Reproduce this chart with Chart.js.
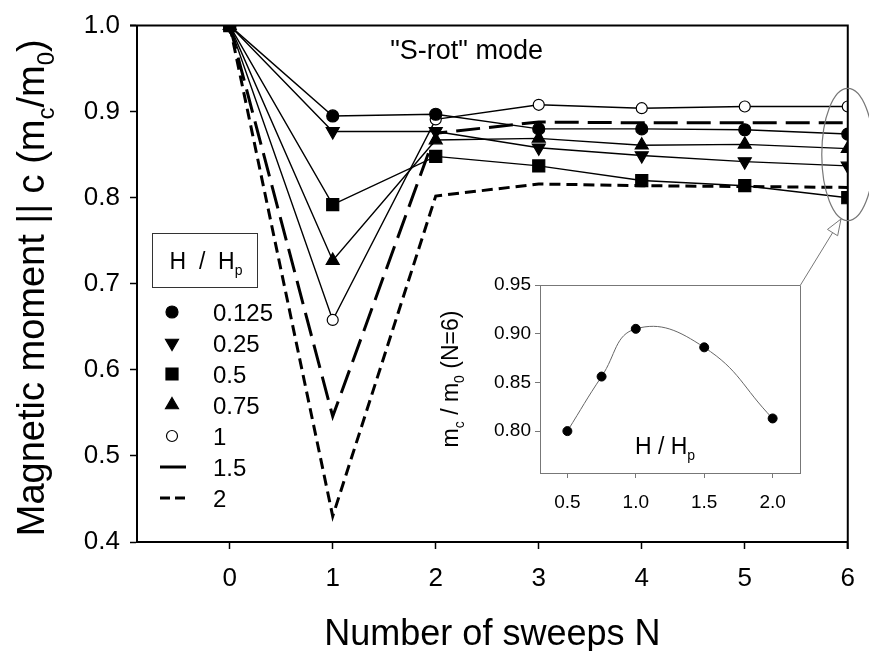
<!DOCTYPE html>
<html>
<head>
<meta charset="utf-8">
<script src="https://cdn.jsdelivr.net/npm/chart.js@4.4.0/dist/chart.umd.min.js"></script>
<style>
  body { margin: 0; background: #fff; }
  #wrap { position: relative; width: 869px; height: 651px; }
  #main { position: absolute; left: 0; top: 0; }
  #inset { position: absolute; left: 430px; top: 210px; }
</style>
</head>
<body>
<div id="wrap">
  <canvas id="main" width="869" height="651"></canvas>
  <canvas id="inset" width="430" height="310"></canvas>
</div>
<script>
// number of sweeps N
const sweeps = [0, 1, 2, 3, 4, 5, 6];
// H / Hp legend labels
const fieldLabels = ['0.125', '0.25', '0.5', '0.75', '1', '1.5', '2'];
// mc/m0 for each H/Hp
const m0125 = [1.0, 0.895, 0.897, 0.880, 0.880, 0.879, 0.874];
const m025  = [1.0, 0.877, 0.877, 0.858, 0.849, 0.842, 0.837];
const m05   = [1.0, 0.792, 0.848, 0.837, 0.820, 0.814, 0.800];
const m075  = [1.0, 0.727, 0.867, 0.869, 0.861, 0.862, 0.857];
const m1    = [1.0, 0.658, 0.891, 0.908, 0.904, 0.906, 0.906];
const m15   = [1.0, 0.546, 0.875, 0.888, 0.887, 0.887, 0.887];
const m2    = [1.0, 0.430, 0.802, 0.816, 0.814, 0.813, 0.812];

const xTicks = [0, 1, 2, 3, 4, 5, 6];
const yTicks = [0.4, 0.5, 0.6, 0.7, 0.8, 0.9, 1.0];

// inset: mc/m0 at N=6 vs H/Hp
const insetField = [0.5, 0.75, 1.0, 1.5, 2.0];
const insetN6 = [0.800, 0.856, 0.905, 0.886, 0.813];
const insetXTicks = [0.5, 1.0, 1.5, 2.0];
const insetYTicks = [0.80, 0.85, 0.90, 0.95];

const FONT = '"Liberation Sans", Arial, sans-serif';
Chart.defaults.font.family = FONT;
Chart.defaults.color = '#000';

function pts(xs, ys) {
    return xs.map((x, i) => ({x: x, y: ys[i]}));
}

// text with subscripts: parts = [[text, isSub], ...], y is baseline
function richText(ctx, parts, x, y, size, align) {
    const sub = Math.round(size * 0.62);
    let w = 0;
    for (const [t, s] of parts) {
        ctx.font = (s ? sub : size) + 'px ' + FONT;
        w += ctx.measureText(t).width;
    }
    let cx = align === 'center' ? x - w / 2 : x;
    ctx.textAlign = 'left';
    ctx.textBaseline = 'alphabetic';
    for (const [t, s] of parts) {
        ctx.font = (s ? sub : size) + 'px ' + FONT;
        ctx.fillText(t, cx, y + (s ? size * 0.25 : 0));
        cx += ctx.measureText(t).width;
    }
}

const marker = (style, fill, radius, rotation) => ({
    pointStyle: style, pointRadius: radius, pointRotation: rotation || 0,
    pointBackgroundColor: fill, pointBorderColor: '#000', pointBorderWidth: 1.2,
    pointHoverRadius: radius,
});

const datasets = [
    {label: fieldLabels[0], data: pts(sweeps, m0125), ...marker('circle', '#000', 6)},
    {label: fieldLabels[1], data: pts(sweeps, m025), ...marker('triangle', '#000', 7.5, 180)},
    {label: fieldLabels[2], data: pts(sweeps, m05), ...marker('rect', '#000', 8.5)},
    {label: fieldLabels[3], data: pts(sweeps, m075), ...marker('triangle', '#000', 7.5)},
    {label: fieldLabels[4], data: pts(sweeps, m1), ...marker('circle', '#fff', 5.5)},
    {label: fieldLabels[5], data: pts(sweeps, m15), pointRadius: 0, borderWidth: 3, borderDash: [24, 9]},
    {label: fieldLabels[6], data: pts(sweeps, m2), pointRadius: 0, borderWidth: 3, borderDash: [11, 6]},
].map(d => Object.assign({showLine: true, borderColor: '#000', borderWidth: 1.4, tension: 0, fill: false}, d));

const mainDecor = {
    id: 'mainDecor',
    afterDraw(chart) {
        const ctx = chart.ctx;
        const a = chart.chartArea;
        const xs = chart.scales.x, ys = chart.scales.y;
        ctx.save();
        // top and right frame
        ctx.strokeStyle = '#000';
        ctx.lineWidth = 2;
        ctx.beginPath();
        ctx.moveTo(a.left - 7, a.top);
        ctx.lineTo(a.right, a.top);
        ctx.lineTo(a.right, a.bottom + 7);
        ctx.stroke();

        ctx.fillStyle = '#000';
        // mode label
        richText(ctx, [['"S-rot" mode', false]], xs.getPixelForValue(2.3), 59, 27, 'center');

        // axis titles
        richText(ctx, [['Number of sweeps N', false]], (a.left + a.right) / 2, 645, 36, 'center');
        ctx.save();
        ctx.translate(31, (a.top + a.bottom) / 2 + 4);
        ctx.rotate(-Math.PI / 2);
        richText(ctx, [['Magnetic moment || c (m', false], ['c', true], ['/m', false], ['0', true], [')', false]],
            0, 13, 38, 'center');
        ctx.restore();

        // ellipse around N=6 values
        ctx.strokeStyle = '#777';
        ctx.lineWidth = 1.2;
        const ey1 = ys.getPixelForValue(0.927), ey2 = ys.getPixelForValue(0.7735);
        ctx.beginPath();
        ctx.ellipse(xs.getPixelForValue(6), (ey1 + ey2) / 2, 26, (ey2 - ey1) / 2, 0, 0, Math.PI * 2);
        ctx.stroke();

        // legend
        ctx.strokeStyle = '#333';
        ctx.lineWidth = 1;
        ctx.strokeRect(152.5, 233.5, 105, 54);
        richText(ctx, [['H  /  H', false], ['p', true]], 206, 269, 23, 'center');
        chart.data.datasets.forEach((d, i) => {
            const ly = 312 + i * 31;
            const lx = 172;
            if (d.pointRadius > 0) {
                ctx.fillStyle = d.pointBackgroundColor;
                ctx.strokeStyle = '#000';
                ctx.lineWidth = 1.2;
                Chart.helpers.drawPoint(ctx, {
                    pointStyle: d.pointStyle, rotation: d.pointRotation,
                    radius: d.pointRadius, borderWidth: 1.2
                }, lx, ly);
            } else {
                ctx.strokeStyle = '#000';
                ctx.lineWidth = 3;
                ctx.setLineDash(d.borderDash[0] > 15 ? [] : [10, 5]);
                ctx.beginPath();
                ctx.moveTo(lx - 12, ly);
                ctx.lineTo(lx + 14, ly);
                ctx.stroke();
                ctx.setLineDash([]);
            }
            ctx.fillStyle = '#000';
            richText(ctx, [[d.label, false]], 213, ly + 9, 24, 'left');
        });
        ctx.restore();
    }
};

new Chart(document.getElementById('main'), {
    type: 'scatter',
    data: {datasets: datasets},
    options: {
        responsive: false,
        animation: false,
        devicePixelRatio: 1,
        layout: {padding: {top: 22, right: 11, left: 0, bottom: 0}},
        plugins: {legend: {display: false}, tooltip: {enabled: false}},
        scales: {
            x: {
                type: 'linear', min: -0.9, max: 6,
                afterBuildTicks: s => { s.ticks = xTicks.map(v => ({value: v})); },
                afterFit: s => { s.height = 109; },
                ticks: {font: {size: 26}, color: '#000', padding: 14, maxRotation: 0, autoSkip: false,
                        callback: v => String(v)},
                grid: {drawOnChartArea: false, drawTicks: true, tickLength: 7, tickColor: '#000', tickWidth: 1.5},
                border: {display: true, color: '#000', width: 2}
            },
            y: {
                type: 'linear', min: 0.4, max: 1.0,
                afterBuildTicks: s => { s.ticks = yTicks.map(v => ({value: v})); },
                afterFit: s => { s.width = 137; },
                ticks: {font: {size: 26}, color: '#000', padding: 10, autoSkip: false,
                        callback: v => v.toFixed(1)},
                grid: {drawOnChartArea: false, drawTicks: true, tickLength: 7, tickColor: '#000', tickWidth: 1.5},
                border: {display: true, color: '#000', width: 2}
            }
        }
    },
    plugins: [mainDecor]
});

const insetDecor = {
    id: 'insetDecor',
    afterDraw(chart) {
        const ctx = chart.ctx;
        const a = chart.chartArea;
        ctx.save();
        ctx.strokeStyle = '#777';
        ctx.lineWidth = 1;
        ctx.beginPath();
        ctx.moveTo(a.left, a.top + 0.5);
        ctx.lineTo(a.right + 0.5, a.top + 0.5);
        ctx.lineTo(a.right + 0.5, a.bottom);
        ctx.stroke();

        // arrow to the ellipse
        const tx = a.right + 41, ty = a.top - 66;
        ctx.beginPath();
        ctx.moveTo(a.right + 0.5, a.top);
        ctx.lineTo(tx, ty);
        ctx.stroke();
        const ang = Math.atan2(ty - a.top, tx - a.right);
        const L = 16, W = 6;
        const bx = tx - L * Math.cos(ang), by = ty - L * Math.sin(ang);
        ctx.fillStyle = '#fff';
        ctx.beginPath();
        ctx.moveTo(tx, ty);
        ctx.lineTo(bx + W * Math.sin(ang), by - W * Math.cos(ang));
        ctx.lineTo(bx - W * Math.sin(ang), by + W * Math.cos(ang));
        ctx.closePath();
        ctx.fill();
        ctx.stroke();

        ctx.fillStyle = '#000';
        richText(ctx, [['H / H', false], ['p', true]], (a.left + a.right) / 2 - 5, a.bottom - 19, 23, 'center');
        ctx.save();
        ctx.translate(20, (a.top + a.bottom) / 2);
        ctx.rotate(-Math.PI / 2);
        richText(ctx, [['m', false], ['c', true], [' / m', false], ['0', true], [' (N=6)', false]], 0, 8, 23, 'center');
        ctx.restore();
        ctx.restore();
    }
};

new Chart(document.getElementById('inset'), {
    type: 'scatter',
    data: {
        datasets: [{
            data: pts(insetField, insetN6),
            showLine: true, borderColor: '#666', borderWidth: 1, tension: 0.45,
            pointRadius: 4.5, pointHoverRadius: 4.5, pointBackgroundColor: '#000', pointBorderColor: '#000'
        }]
    },
    options: {
        responsive: false,
        animation: false,
        devicePixelRatio: 1,
        layout: {padding: {top: 75, right: 60, left: 0, bottom: 0}},
        plugins: {legend: {display: false}, tooltip: {enabled: false}},
        scales: {
            x: {
                type: 'linear', min: 0.3, max: 2.2,
                afterBuildTicks: s => { s.ticks = insetXTicks.map(v => ({value: v})); },
                afterFit: s => { s.height = 47; },
                ticks: {font: {size: 19}, color: '#000', padding: 13, maxRotation: 0, autoSkip: false,
                        callback: v => v.toFixed(1)},
                grid: {drawOnChartArea: false, drawTicks: true, tickLength: 5, tickColor: '#777', tickWidth: 1},
                border: {display: true, color: '#777', width: 1}
            },
            y: {
                type: 'linear', min: 0.757, max: 0.95,
                afterBuildTicks: s => { s.ticks = insetYTicks.map(v => ({value: v})); },
                afterFit: s => { s.width = 110; },
                ticks: {font: {size: 19}, color: '#000', padding: 4, autoSkip: false,
                        callback: v => v.toFixed(2)},
                grid: {drawOnChartArea: false, drawTicks: true, tickLength: 5, tickColor: '#777', tickWidth: 1},
                border: {display: true, color: '#777', width: 1}
            }
        }
    },
    plugins: [insetDecor]
});
</script>
</body>
</html>
